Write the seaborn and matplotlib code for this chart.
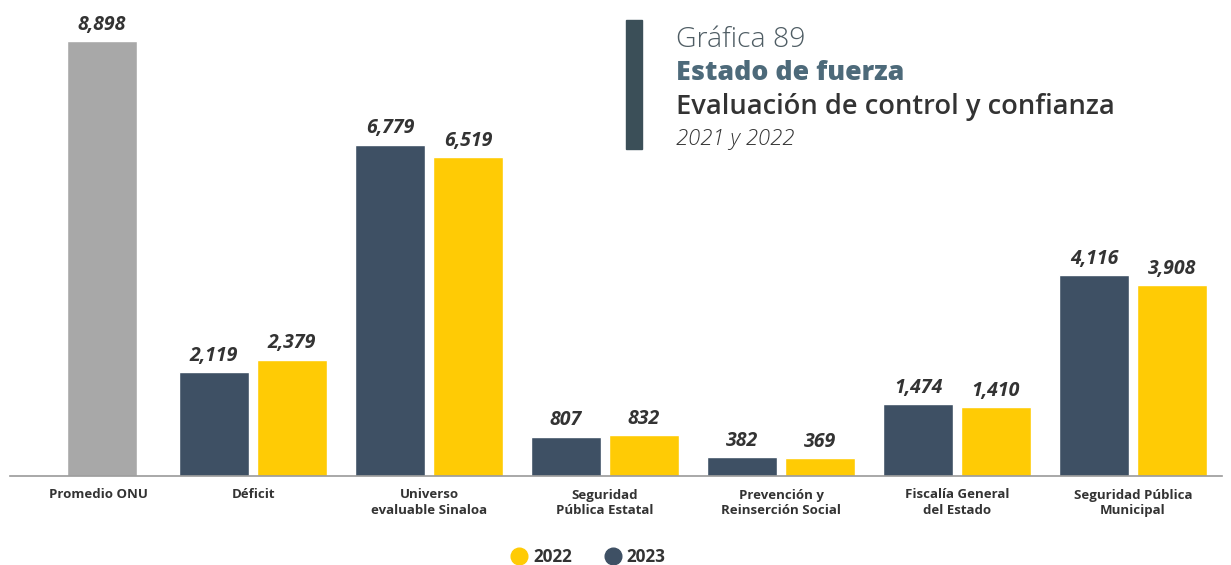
import matplotlib
matplotlib.use("Agg")
import matplotlib.pyplot as plt
from matplotlib.lines import Line2D
from matplotlib.transforms import ScaledTranslation
import pandas as pd
import seaborn as sns

# Data
onu_label = "Promedio ONU"
onu_value = 8898
categories = [
    "Déficit",
    "Universo\nevaluable Sinaloa",
    "Seguridad\nPública Estatal",
    "Prevención y\nReinserción Social",
    "Fiscalía General\ndel Estado",
    "Seguridad Pública\nMunicipal",
]
values_2023 = [2119, 6779, 807, 382, 1474, 4116]
values_2022 = [2379, 6519, 832, 369, 1410, 3908]
years = ["2023", "2022"]

# Colours
C_DARK = "#3e5064"
C_YELLOW = "#ffcb05"
C_GRAY = "#a8a8a8"
C_TEXT = "#333333"

sns.set_theme(style="white")
plt.rcParams["font.family"] = ["Open Sans", "DejaVu Sans"]

order = [onu_label] + categories
pairs = pd.DataFrame({
    "categoria": categories * 2,
    "anio": ["2023"] * len(categories) + ["2022"] * len(categories),
    "valor": values_2023 + values_2022,
})
onu_df = pd.DataFrame({"categoria": [onu_label], "valor": [onu_value]})

W, H = 1231, 565
fig = plt.figure(figsize=(W / 100, H / 100), dpi=100)
ax = fig.add_axes([10 / W, 89 / H, 1212 / W, 459.6 / H])

sns.barplot(data=pairs, x="categoria", y="valor", hue="anio", order=order,
            hue_order=years, palette={"2023": C_DARK, "2022": C_YELLOW},
            width=0.886, gap=0.1, saturation=1, legend=False, ax=ax)
n_pair_patches = len(ax.patches)
sns.barplot(data=onu_df, x="categoria", y="valor", order=order, color=C_GRAY,
            width=0.398, saturation=1, ax=ax)

# The ONU bar sits a little right of its nominal slot
shift = ScaledTranslation(0.25, 0, fig.dpi_scale_trans)
for p in ax.patches[n_pair_patches:]:
    p.set_transform(ax.transData + shift)

ax.set_xlim(-0.381, 6.506)
ax.set_ylim(0, 9400)

# Value labels
label_kw = dict(fontsize=14, fontweight="bold", fontstyle="italic", color=C_TEXT)
for cont in ax.containers[:2]:
    vals = [b.get_height() for b in cont]
    ax.bar_label(cont, labels=[f"{v:,.0f}" for v in vals], padding=4.5, **label_kw)
ax.annotate(f"{onu_value:,}", xy=(0, onu_value), xytext=(18, 4.5),
            textcoords="offset points", ha="center", va="bottom", **label_kw)

# Axes styling
for s in ["top", "right", "left"]:
    ax.spines[s].set_visible(False)
ax.spines["bottom"].set_color("#9a9a9a")
ax.spines["bottom"].set_linewidth(1.2)
ax.set_yticks([])
ax.set_xlabel("")
ax.set_ylabel("")
ax.set_xticks(range(len(order)))
ax.set_xticklabels(order, fontsize=9.5, fontweight="bold", color=C_TEXT,
                   linespacing=1.25)
ax.tick_params(axis="x", length=0, pad=9)
first = ax.get_xticklabels()[0]
first.set_transform(first.get_transform() + ScaledTranslation(0.21, 0, fig.dpi_scale_trans))

# Title block
def fy(y):
    return 1 - y / H

fig.patches.append(plt.Rectangle((626 / W, fy(149)), 16 / W, 129 / H,
                                 transform=fig.transFigure, color="#3b4f58"))
tx = 676 / W
fig.text(tx, fy(47), "Gráfica 89", fontsize=20.5, fontweight="light",
         color="#4f5d64", va="baseline")
fig.text(tx, fy(80), "Estado de fuerza", fontsize=19.3, fontweight="heavy",
         color="#4d6a7a", va="baseline")
fig.text(tx, fy(114), "Evaluación de control y confianza", fontsize=19.6,
         fontweight="semibold", color=C_TEXT, va="baseline")
fig.text(tx, fy(145), "2021 y 2022", fontsize=15.8, fontweight="light",
         fontstyle="italic", color=C_TEXT, va="baseline")

# Legend
handles = [
    Line2D([], [], ls="none", marker="o", markersize=12, color=C_YELLOW, label="2022"),
    Line2D([], [], ls="none", marker="o", markersize=12, color=C_DARK, label="2023"),
]
leg = fig.legend(handles=handles, loc="center", bbox_to_anchor=(588 / W, fy(557)),
                 ncol=2, frameon=False, handlelength=1.0, handletextpad=0.3,
                 columnspacing=1.9, prop={"size": 12.3, "weight": "bold"})
for t in leg.get_texts():
    t.set_color(C_TEXT)

fig.savefig("out.png", dpi=100, facecolor="white")
